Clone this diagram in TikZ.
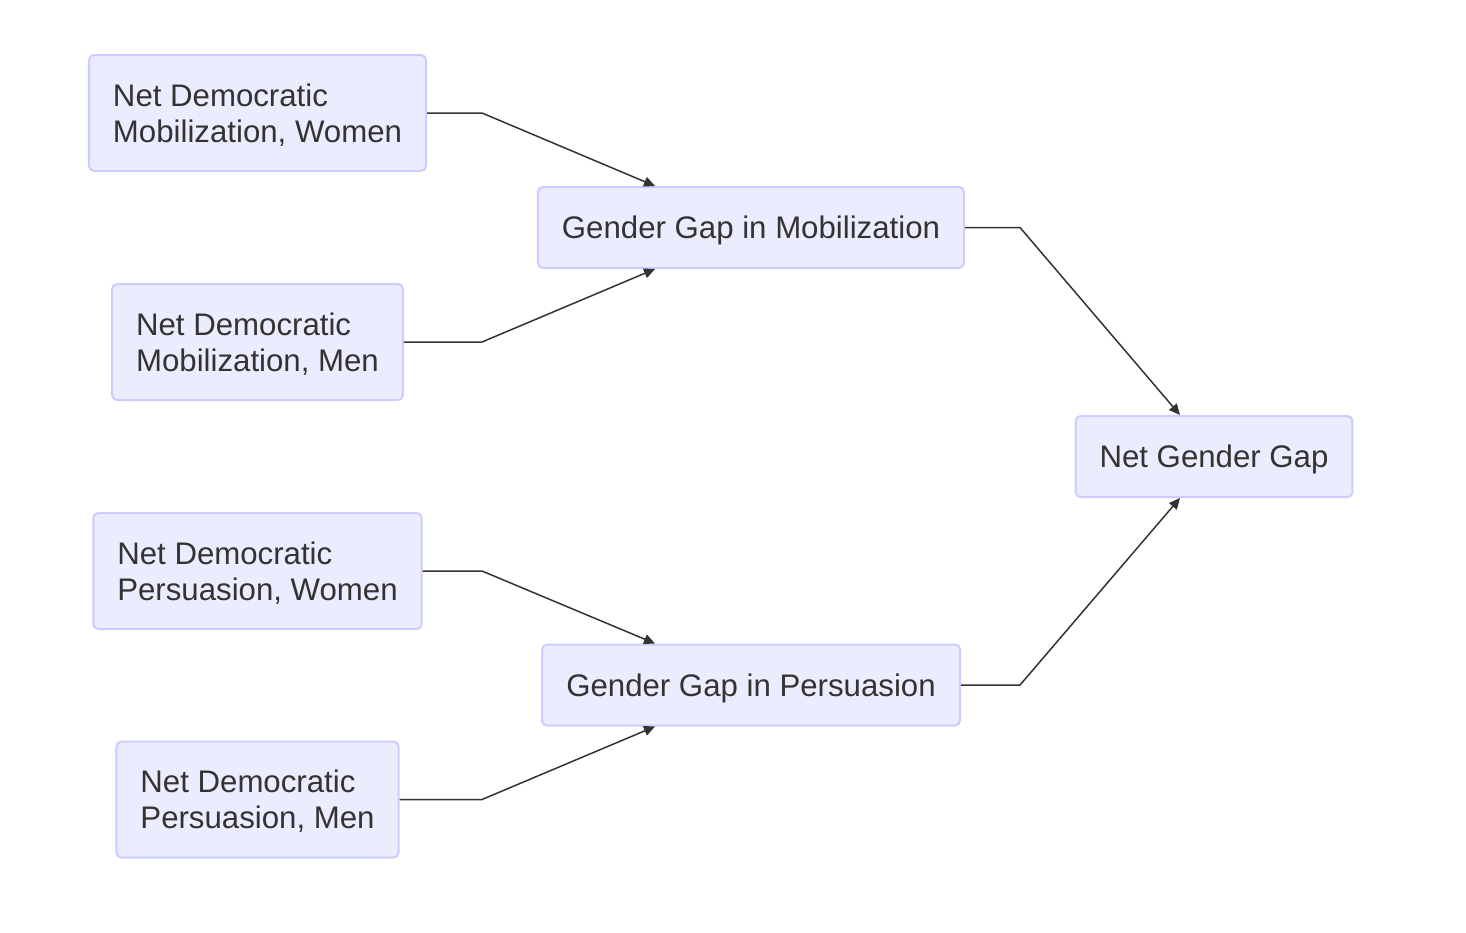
\documentclass[tikz,border=0pt]{standalone}
\usepackage{fontspec}
\setmainfont{Liberation Sans}
\usepackage{xcolor}
\usetikzlibrary{arrows.meta, positioning, calc}

\definecolor{boxfill}{HTML}{ECECFF}
\definecolor{boxline}{HTML}{CCCCFF}
\definecolor{inkgray}{HTML}{333333}

\tikzset{
  gapbox/.style={draw=boxline, fill=boxfill, line width=1pt, rounded corners=2.5pt,
    align=left, text=inkgray, inner xsep=12pt, text depth=0pt,
    font=\fontsize{15.6}{18}\selectfont},
  link/.style={draw=inkgray, line width=0.75pt, -{Triangle[length=5.5pt,width=5pt]}}
}

\begin{document}
\begin{tikzpicture}[x=0.5pt, y=-0.5pt]
  \useasboundingbox (0,0) rectangle (1466,932);
  % input boxes
  \node[gapbox, minimum width=168.5pt, minimum height=58pt] (mobw) at (257.5,113)   {Net Democratic\\Mobilization, Women};
  \node[gapbox, minimum width=144.5pt, minimum height=58pt] (mobm) at (257.5,342)   {Net Democratic\\Mobilization, Men};
  \node[gapbox, minimum width=163.5pt, minimum height=58pt] (perw) at (257.5,571)   {Net Democratic\\Persuasion, Women};
  \node[gapbox, minimum width=140.5pt, minimum height=58pt] (perm) at (257.5,799.5) {Net Democratic\\Persuasion, Men};
  % middle and result
  \node[gapbox, minimum width=213pt, minimum height=40.5pt] (gapmob) at (751,227.5) {Gender Gap in Mobilization};
  \node[gapbox, minimum width=209pt, minimum height=40.5pt] (gapper) at (751,685)   {Gender Gap in Persuasion};
  \node[gapbox, minimum width=138pt, minimum height=40.5pt] (netgap) at (1214,456.5) {Net Gender Gap};

  \coordinate (kl) at (482,0);
  \coordinate (kr) at (1020,0);

  \draw[link] (mobw.east) -- (mobw.east -| kl) -- ($(gapmob.north)+(-96,0)$);
  \draw[link] (mobm.east) -- (mobm.east -| kl) -- ($(gapmob.south)+(-96,0)$);
  \draw[link] (perw.east) -- (perw.east -| kl) -- ($(gapper.north)+(-96,0)$);
  \draw[link] (perm.east) -- (perm.east -| kl) -- ($(gapper.south)+(-96,0)$);
  \draw[link] (gapmob.east) -- (gapmob.east -| kr) -- ($(netgap.north)+(-34,0)$);
  \draw[link] (gapper.east) -- (gapper.east -| kr) -- ($(netgap.south)+(-34,0)$);
\end{tikzpicture}
\end{document}
